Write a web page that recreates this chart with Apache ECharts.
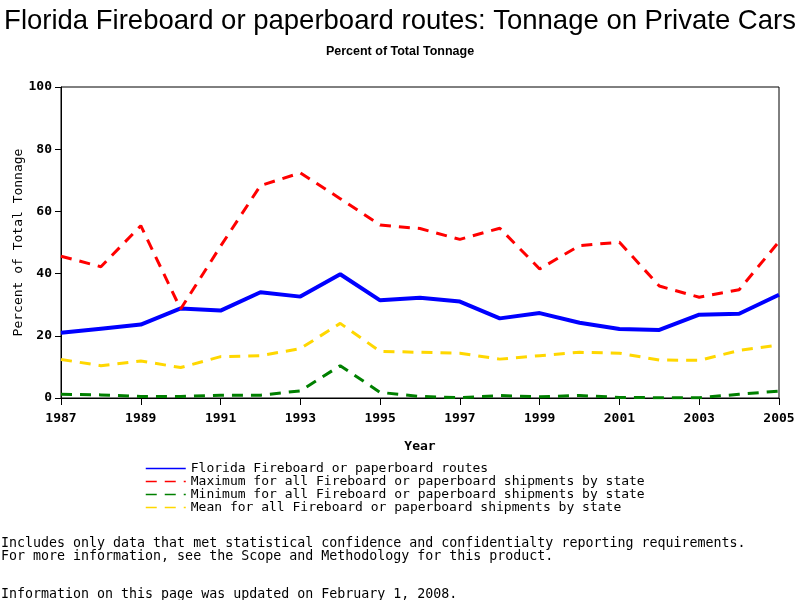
<!DOCTYPE html>
<html><head><meta charset="utf-8">
<script src="https://cdn.jsdelivr.net/npm/echarts@6/dist/echarts.min.js"></script>
<style>html,body{margin:0;padding:0;background:#fff}#c{width:800px;height:600px}</style>
</head><body><div id="c"></div>
<script>
const years = ['1987','1988','1989','1990','1991','1992','1993','1994','1995','1996','1997','1998','1999','2000','2001','2002','2003','2004','2005'];
const florida = [21.0,22.3,23.6,28.8,28.1,34.0,32.6,39.8,31.4,32.2,31.0,25.6,27.3,24.2,22.2,21.9,26.8,27.1,33.2];
const maximum = [45.6,42.2,55.4,28.6,48.8,68.3,72.4,64.1,55.6,54.5,51.0,54.6,41.5,49.0,50.1,36.0,32.4,34.8,50.3];
const minimum = [1.2,1.0,0.5,0.5,0.9,0.9,2.3,10.4,1.8,0.5,0.1,0.8,0.4,0.8,0.2,0.1,0.1,1.2,2.2];
const mean = [12.4,10.4,11.9,9.8,13.3,13.6,15.9,24.0,15.0,14.7,14.4,12.5,13.6,14.7,14.4,12.2,12.1,15.3,17.0];
const seriesNames = ['Florida Fireboard or paperboard routes','Maximum for all Fireboard or paperboard shipments by state','Minimum for all Fireboard or paperboard shipments by state','Mean for all Fireboard or paperboard shipments by state'];
const titleText = 'Florida Fireboard or paperboard routes: Tonnage on Private Cars';
const subtitleText = 'Percent of Total Tonnage';
const yName = 'Percent of Total Tonnage';
const xName = 'Year';
const notes = ['Includes only data that met statistical confidence and confidentialty reporting requirements.','For more information, see the Scope and Methodology for this product.','Information on this page was updated on February 1, 2008.'];

const mono = '"DejaVu Sans Mono", "Liberation Mono", monospace';
const chart = echarts.init(document.getElementById('c'), null, {renderer:'canvas'});
function ser(name, data, color, width, dashed){
  return {name:name, type:'line', data:data, symbol:'none', smooth:false,
    lineStyle:{color:color, width:width, type: dashed ? [11,8] : 'solid'},
    itemStyle:{color:color}, emphasis:{disabled:true}, animation:false};
}
chart.setOption({
  animation:false,
  backgroundColor:'#fff',
  title:[
    {text:titleText, left:'center', top:2, textStyle:{fontFamily:'"Liberation Sans", Arial, sans-serif', fontWeight:'normal', fontSize:27.5, color:'#000'}},
    {text:subtitleText, left:'center', top:40, textStyle:{fontFamily:'"Liberation Sans", Arial, sans-serif', fontWeight:'bold', fontSize:12.5, color:'#000'}}
  ],
  grid:{left:61, right:21, top:87, bottom:202, outerBoundsMode:'none', containLabel:false, show:true, borderColor:'#000', borderWidth:1, backgroundColor:'transparent'},
  xAxis:{type:'category', data:years, boundaryGap:false, name:xName, nameLocation:'middle', nameGap:42, nameMoveOverlap:false,
    nameTextStyle:{fontFamily:mono, fontWeight:'bold', fontSize:13, color:'#000'},
    axisLine:{lineStyle:{color:'#000', width:1}},
    axisTick:{show:true, interval:1, length:7, lineStyle:{color:'#000'}},
    axisLabel:{interval:1, margin:14, fontFamily:mono, fontWeight:'bold', fontSize:13, color:'#000'},
    splitLine:{show:false}},
  yAxis:{type:'value', min:0, max:100, interval:20, name:yName, nameLocation:'middle', nameGap:36, nameRotate:90, nameMoveOverlap:false,
    nameTextStyle:{fontFamily:mono, fontSize:13, color:'#000'},
    axisLine:{show:true, lineStyle:{color:'#000', width:1}},
    axisTick:{show:true, length:6, lineStyle:{color:'#000'}},
    axisLabel:{margin:9, fontFamily:mono, fontWeight:'bold', fontSize:13, color:'#000'},
    splitLine:{show:false}},
  legend:{orient:'vertical', left:145, top:462, padding:0, itemWidth:40, itemHeight:13, itemGap:0,
    textStyle:{fontFamily:mono, fontSize:13, color:'#000'},
    itemStyle:{opacity:0},
    lineStyle:{width:1.5}, data:seriesNames, selectedMode:false},
  series:[
    ser(seriesNames[0], florida, '#0000ff', 4, false),
    ser(seriesNames[1], maximum, '#ff0000', 3, true),
    ser(seriesNames[2], minimum, '#008000', 3, true),
    ser(seriesNames[3], mean, '#ffd700', 3, true)
  ],
  graphic:[
    {type:'text', left:1, top:537, style:{text:notes[0], font:'13.3px '+mono, fill:'#000'}},
    {type:'text', left:1, top:550, style:{text:notes[1], font:'13.3px '+mono, fill:'#000'}},
    {type:'text', left:1, top:588, style:{text:notes[2], font:'13.3px '+mono, fill:'#000'}}
  ]
});
</script></body></html>
